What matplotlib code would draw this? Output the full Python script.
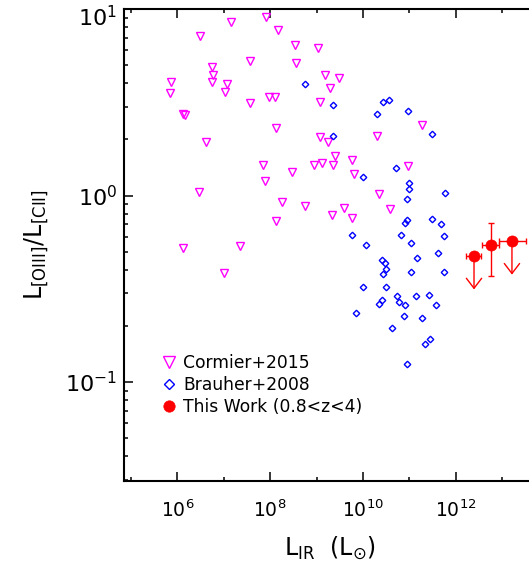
import matplotlib
matplotlib.use('Agg')
import matplotlib.pyplot as plt
import matplotlib.transforms as mtransforms
import numpy as np
from matplotlib.ticker import FixedLocator, LogLocator, LogFormatterSciNotation, NullFormatter

plt.rcParams['font.family'] = ['DejaVu Sans']
plt.rcParams['mathtext.fontset'] = 'dejavusans'

# ---------------- data ----------------
cormier_lir = [7.33e5, 7.10e5, 1.32e6, 1.46e6, 3.05e6, 4.19e6, 2.90e6, 1.32e6,
               5.56e6, 5.75e6, 5.47e6, 1.16e7, 1.04e7, 1.40e7, 3.63e7, 3.63e7,
               2.23e7, 1.02e7, 7.98e7, 1.48e8, 9.59e7, 1.25e8, 1.32e8, 6.98e7,
               7.71e7, 1.81e8, 1.32e8, 3.37e8, 3.60e8, 1.05e9, 1.50e9, 1.99e9,
               3.02e9, 1.20e9, 1.20e9, 1.77e9, 2.99e8, 8.61e8, 1.31e9, 2.23e9,
               2.55e9, 5.75e8, 2.12e9, 3.94e9, 5.81e9, 6.41e9, 5.70e9, 2.04e10,
               2.21e10, 3.78e10, 9.35e10, 1.92e11]
cormier_ratio = [4.04, 3.56, 2.74, 2.71, 7.18, 1.94, 1.04, 0.526,
                 4.86, 4.45, 4.07, 3.96, 3.58, 8.57, 5.26, 3.15,
                 0.538, 0.383, 9.08, 7.76, 3.38, 3.38, 2.31, 1.45,
                 1.19, 0.927, 0.728, 6.40, 5.15, 6.17, 4.43, 3.76,
                 4.26, 3.18, 2.05, 1.94, 1.33, 1.46, 1.50, 1.46,
                 1.62, 0.875, 0.783, 0.857, 1.56, 1.31, 0.760, 2.09,
                 1.02, 0.845, 1.44, 2.39]

brauher_lir = [5.66e8, 2.31e9, 2.23e9, 9.91e9, 5.90e9, 1.15e10, 9.91e9, 7.21e9,
               1.97e10, 2.66e10, 3.60e10, 9.51e10, 3.02e11, 5.04e10, 9.84e10, 9.84e10,
               8.89e10, 5.90e11, 3.13e11, 4.74e11, 5.61e11, 8.75e10, 8.18e10, 6.68e10,
               1.09e11, 1.45e11, 4.15e11, 1.07e11, 5.61e11, 2.54e10, 3.05e10, 3.20e10,
               2.75e10, 3.10e10, 2.62e10, 2.21e10, 5.56e10, 5.85e10, 7.91e10, 7.78e10,
               1.37e11, 2.64e11, 3.69e11, 1.92e11, 4.33e10, 2.20e11, 2.73e11, 9.04e10]
brauher_ratio = [3.96, 3.04, 2.09, 1.26, 0.612, 0.543, 0.325, 0.236,
                 2.74, 3.16, 3.24, 2.83, 2.13, 1.40, 1.17, 1.09,
                 0.957, 1.03, 0.750, 0.705, 0.610, 0.736, 0.711, 0.614,
                 0.555, 0.460, 0.490, 0.387, 0.387, 0.453, 0.437, 0.406,
                 0.379, 0.322, 0.274, 0.262, 0.290, 0.269, 0.259, 0.227,
                 0.288, 0.294, 0.260, 0.220, 0.195, 0.160, 0.170, 0.125]

this_lir = [2.48e12, 5.77e12, 1.63e13]
this_lir_lo = [1.67e12, 3.74e12, 8.71e12]
this_lir_hi = [3.46e12, 8.71e12, 3.27e13]
this_ratio = [0.475, 0.543, 0.570]
this_ratio_lo = [np.nan, 0.371, np.nan]
this_ratio_hi = [np.nan, 0.709, np.nan]
this_upper = [True, False, True]

legend_labels = ['Cormier+2015', 'Brauher+2008', 'This Work (0.8<z<4)']
x_major = [1e6, 1e8, 1e10, 1e12]
x_minor = [1e5, 1e7, 1e9, 1e11, 1e13]
y_major = [0.1, 1, 10]

# ---------------- figure ----------------
W, H = 529, 564
fig = plt.figure(figsize=(W / 100, H / 100), dpi=100)
ax_l, ax_r, ax_t, ax_b = 124, 548.5, 9, 480.7
ax = fig.add_axes([ax_l / W, (H - ax_b) / H, (ax_r - ax_l) / W, (ax_b - ax_t) / H])
ax.set_xscale('log')
ax.set_yscale('log')
ax.set_xlim(10 ** 4.85, 1e14)
ax.set_ylim(0.0296, 10)

magenta = '#FF00FF'
blue = '#0000FF'
red = '#FF0000'

ax.plot(cormier_lir, cormier_ratio, linestyle='none', marker='v', markersize=5.5,
        markerfacecolor='none', markeredgecolor=magenta, markeredgewidth=1.0,
        label=legend_labels[0])
ax.plot(brauher_lir, brauher_ratio, linestyle='none', marker='D', markersize=3.3,
        markerfacecolor='none', markeredgecolor=blue, markeredgewidth=1.0,
        label=legend_labels[1])

tx = np.array(this_lir)
ty = np.array(this_ratio)
xerr = np.array([tx - np.array(this_lir_lo), np.array(this_lir_hi) - tx])
ax.errorbar(tx, ty, xerr=xerr, fmt='none', ecolor=red, elinewidth=1.0,
            capsize=2.4, capthick=1.0, zorder=3)
has_y = ~np.isnan(np.array(this_ratio_lo))
ylo = np.array(this_ratio_lo)[has_y]
yhi = np.array(this_ratio_hi)[has_y]
yerr = np.array([ty[has_y] - ylo, yhi - ty[has_y]])
ax.errorbar(tx[has_y], ty[has_y], yerr=yerr, fmt='none', ecolor=red,
            elinewidth=1.0, capsize=2.4, capthick=1.0, zorder=3)
arrow_factor = 10 ** -0.18
for xi, yi, up in zip(tx, ty, this_upper):
    if up:
        ax.annotate('', xy=(xi, yi * arrow_factor), xytext=(xi, yi),
                    arrowprops=dict(arrowstyle='->,head_length=0.72,head_width=0.55',
                                    color=red, lw=1.0, shrinkA=0, shrinkB=0,
                                    mutation_scale=10), zorder=3)
ax.plot(tx, ty, linestyle='none', marker='o', markersize=8.0, color=red,
        markeredgewidth=0.5, zorder=4, label=legend_labels[2])

# ---------------- axes styling ----------------
for s in ax.spines.values():
    s.set_linewidth(1.5)
ax.xaxis.set_major_locator(FixedLocator(x_major))
ax.xaxis.set_minor_locator(FixedLocator(x_minor))
ax.xaxis.set_major_formatter(LogFormatterSciNotation())
ax.xaxis.set_minor_formatter(NullFormatter())
ax.yaxis.set_major_locator(FixedLocator(y_major))
ax.yaxis.set_major_formatter(LogFormatterSciNotation())
ax.yaxis.set_minor_locator(LogLocator(base=10, subs=np.arange(2, 10)))
ax.yaxis.set_minor_formatter(NullFormatter())
ax.tick_params(which='both', direction='in', top=True, right=True, width=1.1)
ax.tick_params(which='major', length=6.5)
ax.tick_params(which='minor', length=3.2)
ax.tick_params(axis='x', which='major', labelsize=13.5, pad=13.5)
ax.tick_params(axis='y', which='major', labelsize=16, pad=5)

# shift the top y tick label down so it stays inside the figure
top_tick = ax.yaxis.get_major_ticks()[-1]
top_tick.label1.set_transform(top_tick.label1.get_transform() +
                              mtransforms.ScaledTranslation(0, -7 / 100, fig.dpi_scale_trans))

ax.set_xlabel(r'L$_{\mathrm{IR}}$  (L$_{\odot}$)', fontsize=17)
ax.xaxis.set_label_coords(0.485, -0.115)
ax.set_ylabel(r'L$_{\mathrm{[OIII]}}$/L$_{\mathrm{[CII]}}$', fontsize=17)
ax.yaxis.set_label_coords(-0.174, 0.5)

leg = ax.legend(loc='upper left', bbox_to_anchor=(0.086, 0.268), frameon=False,
                fontsize=12.3, handlelength=1.0, handletextpad=0.32,
                labelspacing=0.22, borderpad=0, borderaxespad=0, numpoints=1)
for h, ms in zip(leg.legend_handles, [8.2, 5.0, 8.2]):
    h.set_markersize(ms)

fig.savefig('out.png', dpi=100)
